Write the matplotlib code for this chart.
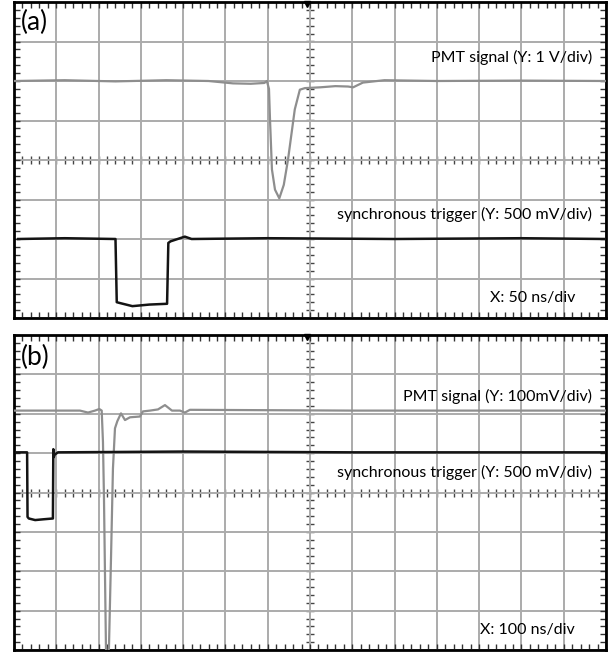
"""
Two oscilloscope screenshots: PMT signal and synchronous trigger,
(a) 50 ns/div and (b) 100 ns/div.
"""
import matplotlib

matplotlib.use("Agg")
import matplotlib.pyplot as plt
import numpy as np

plt.rcParams["font.family"] = ["Lato", "DejaVu Sans"]

# screen: 14 x 8 divisions
N_DIV_X = 14
N_DIV_Y = 8

# [begin-data]
# panel (a): X 50 ns/div, PMT 1 V/div, trigger 500 mV/div
A_NS_PER_DIV = 50
A_PMT_V_PER_DIV = 1.0
A_TRIG_V_PER_DIV = 0.5
A_PMT_T = [0, 60, 120, 180, 230, 259, 280, 296, 299, 301.5, 302.7, 305, 308.6, 313.7,
           319, 324, 332, 338, 344, 362, 380, 395, 401, 412.6, 438, 500, 600, 700]
A_PMT_V = [0, 0.02, -0.01, 0.02, 0.0, -0.06, -0.07, -0.05, 0, -0.2, -0.97, -2.24, -2.75, -2.97,
           -2.63, -1.99, -0.72, -0.22, -0.18, -0.16, -0.13, -0.14, -0.16, -0.04, 0.02, 0.0, 0.01, 0]
A_TRIG_T = [5, 60, 120, 121.5, 125, 140, 160, 181, 182.5, 185, 202, 210, 300, 450, 600, 700]
A_TRIG_V = [0, 0.01, 0, -0.80, -0.81, -0.85, -0.83, -0.82, -0.05, -0.03, 0.03, 0, 0.01, 0, 0.01, 0]

# panel (b): X 100 ns/div, PMT 100 mV/div, trigger 500 mV/div
B_NS_PER_DIV = 100
B_PMT_V_PER_DIV = 0.1
B_TRIG_V_PER_DIV = 0.5
B_PMT_T = [0, 156, 175, 191.5, 201.7, 207.4, 210.4, 212.8, 217.5, 221, 224.6, 229.4, 234, 238.8,
           244.3, 253, 262.5, 274.3, 298, 305, 321.6, 340.5, 357, 373.6, 392.5, 404, 416, 800, 1400]
B_PMT_V = [0, 0, -0.005, 0, 0.004, 0, -0.08, -0.223, -0.605, -0.65, -0.6, -0.375, -0.147, -0.045,
           -0.027, -0.007, -0.024, -0.017, -0.015, -0.002, 0, 0.003, 0.014, 0, 0, -0.005, 0.002, 0, 0]
B_TRIG_T = [5, 31, 32, 35, 50, 70, 92, 93, 94, 96, 104, 400, 800, 1400]
B_TRIG_V = [0, 0, -0.82, -0.84, -0.86, -0.85, -0.84, 0.04, -0.06, -0.03, 0, 0.01, 0, 0]

A_LABELS = ["PMT signal (Y: 1 V/div)", "synchronous trigger (Y: 500 mV/div)", "X: 50 ns/div"]
B_LABELS = ["PMT signal (Y: 100mV/div)", "synchronous trigger (Y: 500 mV/div)", "X: 100 ns/div"]
# [end-data]

GRID_COLOR = "#ababab"
PMT_COLOR = "#8e8e8e"
TRIG_COLOR = "#141414"


def draw_screen(ax):
    """Draw the oscilloscope graticule on an axes in division units."""
    ax.set_xlim(0, N_DIV_X)
    ax.set_ylim(-N_DIV_Y / 2, N_DIV_Y / 2)
    ax.set_xticks(np.arange(0, N_DIV_X + 1))
    ax.set_yticks(np.arange(-N_DIV_Y / 2, N_DIV_Y / 2 + 1))
    ax.set_xticks(np.arange(0, N_DIV_X + 0.01, 0.2), minor=True)
    ax.set_yticks(np.arange(-N_DIV_Y / 2, N_DIV_Y / 2 + 0.01, 0.2), minor=True)
    ax.grid(True, which="major", color=GRID_COLOR, lw=1.4, zorder=0)
    ax.tick_params(which="both", direction="in", top=True, right=True, length=4, width=1,
                   color="#333333", labelbottom=False, labelleft=False)
    for spine in ax.spines.values():
        spine.set_linewidth(2)
        spine.set_color("black")
    # ticks along the centre cross
    mx = np.arange(0, N_DIV_X + 0.01, 0.2)
    my = np.arange(-N_DIV_Y / 2, N_DIV_Y / 2 + 0.01, 0.2)
    ax.plot(mx, np.zeros_like(mx), ls="none", marker="|", ms=6, mew=1, color="#444444", zorder=1)
    ax.plot(np.full_like(my, N_DIV_X / 2), my, ls="none", marker="_", ms=6, mew=1, color="#444444", zorder=1)
    ax.plot([6.93], [3.96], marker="v", ms=5, color="black", clip_on=False, zorder=5)


def to_div(t, v, ns_per_div, v_per_div, offset):
    return np.array(t) / ns_per_div, np.array(v) / v_per_div + offset


fig = plt.figure(figsize=(6.1, 6.54), dpi=100)
ax_a = fig.add_axes([14 / 610, 1 - 318 / 654, 592 / 610, 316 / 654])
ax_b = fig.add_axes([14 / 610, 1 - 650 / 654, 592 / 610, 315 / 654])

# panel (a)
draw_screen(ax_a)
x, y = to_div(A_PMT_T, A_PMT_V, A_NS_PER_DIV, A_PMT_V_PER_DIV, 2.0)
ax_a.plot(x, y, color=PMT_COLOR, lw=1.6, zorder=3)
x, y = to_div(A_TRIG_T, A_TRIG_V, A_NS_PER_DIV, A_TRIG_V_PER_DIV, -2.0)
ax_a.plot(x, y, color=TRIG_COLOR, lw=1.8, zorder=4)
ax_a.text(0.17, 3.47, "(a)", fontsize=19, ha="left", va="center")
ax_a.text(13.67, 2.6, A_LABELS[0], fontsize=11.5, ha="right", va="center")
ax_a.text(13.67, -1.39, A_LABELS[1], fontsize=11.5, ha="right", va="center")
ax_a.text(13.27, -3.49, A_LABELS[2], fontsize=11.5, ha="right", va="center")

# panel (b)
draw_screen(ax_b)
x, y = to_div(B_PMT_T, B_PMT_V, B_NS_PER_DIV, B_PMT_V_PER_DIV, 2.08)
ax_b.plot(x, y, color=PMT_COLOR, lw=1.6, zorder=3)
x, y = to_div(B_TRIG_T, B_TRIG_V, B_NS_PER_DIV, B_TRIG_V_PER_DIV, 1.02)
ax_b.plot(x, y, color=TRIG_COLOR, lw=1.8, zorder=4)
ax_b.text(0.17, 3.43, "(b)", fontsize=19, ha="left", va="center")
ax_b.text(13.67, 2.43, B_LABELS[0], fontsize=11.5, ha="right", va="center")
ax_b.text(13.67, 0.52, B_LABELS[1], fontsize=11.5, ha="right", va="center")
ax_b.text(13.27, -3.5, B_LABELS[2], fontsize=11.5, ha="right", va="center")

fig.savefig("out.png", dpi=100)
